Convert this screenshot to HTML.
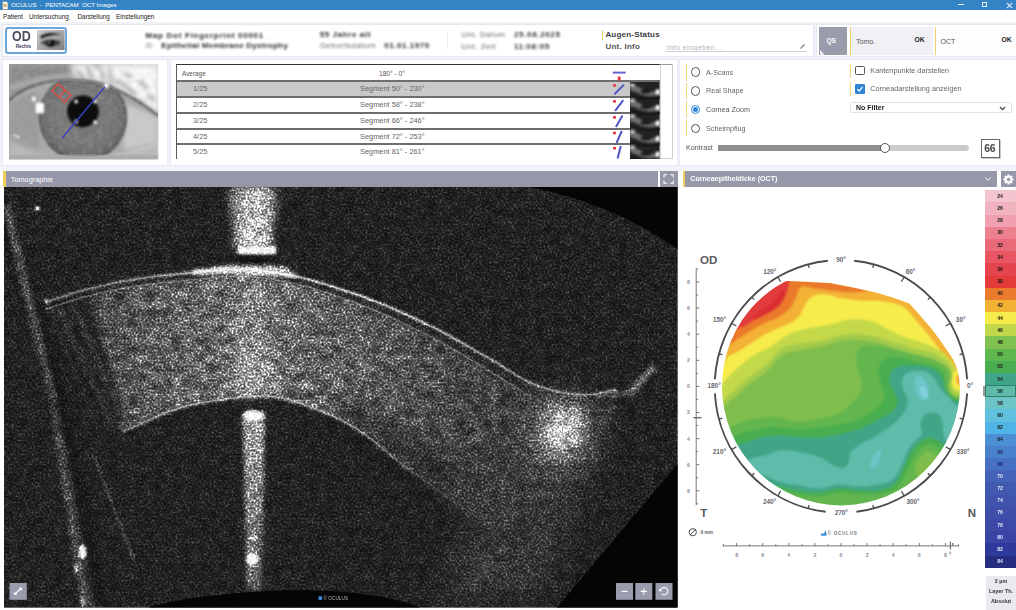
<!DOCTYPE html>
<html><head><meta charset="utf-8"><title>OCULUS - PENTACAM OCT Images</title>
<style>
*{box-sizing:border-box;margin:0;padding:0}
html,body{width:1016px;height:610px;overflow:hidden}
body{position:relative;background:#f1f2f8;font-family:"Liberation Sans",sans-serif;color:#444;font-size:7px}
.abs{position:absolute}
.t{position:absolute;white-space:pre;line-height:1}
.card{position:absolute;background:#fff;border:1px solid #e9eaf2}
.blur{filter:blur(1px)}
.ybar{position:absolute;width:1.5px;background:#f1d57a}
.hdr{position:absolute;background:#9697a8;height:16px}
.btn{position:absolute;background:#9a9cae;width:17px;height:17px}
</style></head><body>
<!-- title bar -->
<div class="abs" style="left:0;top:0;width:1016px;height:10.4px;background:#3484c5"></div>
<svg class="abs" style="left:1px;top:1px" width="8" height="9" viewBox="0 0 8 9"><path d="M1.5 0.5h4l1.5 1.5v6.5h-5.5z" fill="#f4f4f4" stroke="#8a8a8a" stroke-width=".6"/><rect x="2.5" y="3" width="3" height="3" fill="#d8b25a"/></svg>
<div class="t" style="left:11px;top:2px;font-size:6.2px;color:#fff;letter-spacing:-0.05px">OCULUS  -  PENTACAM  OCT Images</div>
<div class="abs" style="left:957.5px;top:4.2px;width:6px;height:1.1px;background:#e6effa"></div>
<div class="abs" style="left:982.3px;top:1.8px;width:4.6px;height:5.6px;border:1.1px solid #e6effa"></div>
<svg class="abs" style="left:1006px;top:1.6px" width="7" height="7" viewBox="0 0 7 7"><path d="M.8 .8L6.2 6.2M6.2 .8L.8 6.2" stroke="#e6effa" stroke-width="1.1"/></svg>
<!-- menu bar -->
<div class="abs" style="left:0;top:10.4px;width:1016px;height:11.4px;background:#fff"></div>
<div class="t" style="left:3px;top:13.5px;font-size:6.4px;color:#222">Patient</div>
<div class="t" style="left:29px;top:13.5px;font-size:6.4px;color:#222">Untersuchung</div>
<div class="t" style="left:77.5px;top:13.5px;font-size:6.4px;color:#222">Darstellung</div>
<div class="t" style="left:116px;top:13.5px;font-size:6.4px;color:#222">Einstellungen</div>
<!-- header card -->
<div class="card" style="left:2px;top:23.5px;width:811.5px;height:33px;border-color:#e6e8f0"></div>
<div class="card" style="left:815.5px;top:23.5px;width:201px;height:33px;border-color:#e6e8f0;border-right:0"></div>
<div class="abs" style="left:5.1px;top:26.5px;width:61.8px;height:27px;border:2.3px solid #6ca6dd;border-radius:3.2px;background:#fff"></div>
<div class="t" style="left:11.6px;top:28.1px;font-size:15px;font-weight:700;color:#4c4c5c;transform:scaleX(.83);transform-origin:0 0">OD</div>
<div class="t" style="left:15.7px;top:45.3px;font-size:4.6px;font-weight:700;color:#3a3a5a">Rechts</div>
<!-- OD eye thumbnail -->
<svg class="abs" style="left:37px;top:29.8px" width="27.6" height="20.5" viewBox="0 0 57 45" preserveAspectRatio="none">
<defs><linearGradient id="tg" x1="0" y1="0" x2="1" y2="1"><stop offset="0" stop-color="#d0d0d0"/><stop offset=".5" stop-color="#a8a8a8"/><stop offset="1" stop-color="#7c7c7c"/></linearGradient>
<filter id="tb" x="-20%" y="-20%" width="140%" height="140%"><feGaussianBlur stdDeviation="2"/></filter></defs>
<rect width="57" height="45" fill="url(#tg)"/>
<g filter="url(#tb)">
<path d="M7 13 Q26 1 51 11 Q30 9 8 19z" fill="#141414"/>
<path d="M10 30 Q24 18 46 26 Q50 30 44 34 Q26 40 10 30z" fill="#4a4a4a"/>
<ellipse cx="28" cy="29" rx="9" ry="7.5" fill="#101010"/>
<path d="M8 29 Q24 17 48 27" stroke="#151515" stroke-width="2.5" fill="none"/>
<circle cx="25" cy="27" r="1.6" fill="#ddd"/>
</g></svg>
<!-- patient texts (blurred) -->
<div class="blur">
<div class="t" style="left:145.5px;top:31.5px;font-size:8px;font-weight:700;color:#2c2c34;letter-spacing:.72px">Map Dot Fingerprint 00001 <span style="color:#c8c8d0;font-weight:400">...</span></div>
<div class="t" style="left:145.5px;top:42px;font-size:7px;color:#80808c">ID</div>
<div class="t" style="left:161.3px;top:41.8px;font-size:8px;font-weight:700;color:#2c2c34;letter-spacing:.25px">Epithelial Membrane Dystrophy</div>
<div class="t" style="left:319.7px;top:31px;font-size:8px;font-weight:700;color:#2c2c34;letter-spacing:.6px">55 Jahre alt</div>
<div class="t" style="left:319.7px;top:41.8px;font-size:8px;color:#686872;letter-spacing:.45px">Geburtsdatum</div>
<div class="t" style="left:384.3px;top:41.8px;font-size:8px;font-weight:700;color:#2c2c34;letter-spacing:.55px">01.01.1970</div>
<div class="t" style="left:461.3px;top:30.8px;font-size:8px;color:#686872;letter-spacing:.35px">Unt. Datum</div>
<div class="t" style="left:514px;top:30.8px;font-size:8px;font-weight:700;color:#34343c;letter-spacing:.65px">25.08.2025</div>
<div class="t" style="left:461.3px;top:43px;font-size:8px;color:#686872;letter-spacing:.5px">Unt. Zeit</div>
<div class="t" style="left:514px;top:43px;font-size:8px;font-weight:700;color:#34343c;letter-spacing:.5px">11:08:05</div>
</div>
<div class="abs" style="left:447px;top:32px;width:1px;height:17px;background:#eceef4"></div>
<div class="ybar" style="left:601.5px;top:29.5px;height:10.5px"></div>
<div class="t" style="left:605.4px;top:30.5px;font-size:8px;font-weight:700;color:#3c3c44;letter-spacing:.2px">Augen-Status</div>
<div class="t" style="left:605.4px;top:43px;font-size:8px;font-weight:700;color:#55555d;letter-spacing:.25px">Unt. Info</div>
<div class="t" style="left:666.8px;top:43.5px;font-size:7px;color:#b4b4be;letter-spacing:.45px">Info eingeben...</div>
<div class="abs" style="left:666px;top:50.5px;width:141px;height:1px;background:#cfd1da"></div>
<svg class="abs" style="left:799px;top:42.5px" width="7" height="7" viewBox="0 0 7 7"><path d="M1 6l.6-1.8 3.4-3.4 1.2 1.2-3.4 3.4z" fill="#9a9aa4"/></svg>
<!-- QS / Tomo / OCT -->
<div class="abs" style="left:819px;top:27px;width:27.5px;height:28px;background:#9a9cab"></div>
<svg class="abs" style="left:819.5px;top:50px" width="4.8" height="4.8" viewBox="0 0 6 6"><path d="M0 0L6 6H0z" fill="#eeeef3"/></svg>
<div class="t" style="left:826.5px;top:37.5px;font-size:6.5px;font-weight:700;color:#fff">QS</div>
<div class="abs" style="left:850px;top:27px;width:82.5px;height:28px;background:#f1f1f5"></div>
<div class="ybar" style="left:849.5px;top:27px;height:28px;width:1.8px;background:#f0cf6a"></div>
<div class="t" style="left:856px;top:37.6px;font-size:7px;color:#55555d">Tomo.</div>
<div class="t" style="left:914.5px;top:37.3px;font-size:6.8px;font-weight:700;color:#222">OK</div>
<div class="abs" style="left:935px;top:27px;width:81px;height:28px;background:#fdfdfe"></div>
<div class="ybar" style="left:934.5px;top:27px;height:28px;width:1.8px;background:#f0cf6a"></div>
<div class="t" style="left:940.5px;top:37.6px;font-size:7px;color:#55555d">OCT</div>
<div class="t" style="left:1001.5px;top:37.3px;font-size:6.8px;font-weight:700;color:#222">OK</div>
<!-- eye card -->
<div class="card" style="left:2px;top:58.5px;width:165.5px;height:107px"></div>
<svg class="abs" style="left:9.3px;top:64.3px" width="149.3" height="95.5" viewBox="25 25 868 555" preserveAspectRatio="none">
<defs>
<linearGradient id="ebg" x1="0" y1="0" x2="1" y2="0"><stop offset="0" stop-color="#a2a2a2"/><stop offset=".5" stop-color="#b0b0b0"/><stop offset="1" stop-color="#cdcdcd"/></linearGradient>
<radialGradient id="iris" cx="455" cy="320" r="260" gradientUnits="userSpaceOnUse"><stop offset="0" stop-color="#6a6a6a"/><stop offset=".55" stop-color="#787878"/><stop offset=".9" stop-color="#6c6c6c"/><stop offset="1" stop-color="#565656"/></radialGradient>
<filter id="eb1" x="-20%" y="-20%" width="140%" height="140%"><feGaussianBlur stdDeviation="12"/></filter>
<filter id="eb2" x="-20%" y="-20%" width="140%" height="140%"><feGaussianBlur stdDeviation="6"/></filter>
<filter id="eb3" x="-20%" y="-20%" width="140%" height="140%"><feGaussianBlur stdDeviation="22"/></filter>
<filter id="enoise" x="0" y="0" width="100%" height="100%"><feTurbulence type="fractalNoise" baseFrequency=".035" numOctaves="3" seed="4"/><feColorMatrix values="0 0 0 0 .5  0 0 0 0 .5  0 0 0 0 .5  .9 0 0 0 -.32"/></filter>
<clipPath id="ecl"><rect x="25" y="25" width="868" height="555"/></clipPath>
<clipPath id="lidcl"><path d="M25 250 Q120 150 300 128 Q480 110 620 165 Q780 240 893 330 L893 470 Q700 560 455 565 Q200 560 25 440z"/></clipPath>
</defs>
<g clip-path="url(#ecl)">
<rect x="25" y="25" width="868" height="555" fill="url(#ebg)"/>
<!-- upper lid skin -->
<path d="M25 25H420L400 120 Q250 100 25 200z" fill="#8a8a8a" filter="url(#eb3)"/>
<path d="M380 25H893V310 Q760 200 600 140 Q500 105 400 105z" fill="#fafafa" filter="url(#eb3)"/>
<!-- lashes streaks -->
<g filter="url(#eb1)" stroke="#8a8a8a" stroke-width="16" fill="none" opacity=".9">
<path d="M250 60l60 40M330 40l50 50M420 60l40 50M480 40l30 70M560 60l20 60M610 50l10 90M640 120l60 30M700 150l60 50M740 230l70 30M780 120l50 50M690 80l50 20M830 200l40 40M520 30l40 20"/>
</g>
<!-- sclera -->
<path d="M25 250 Q120 150 300 128 Q480 110 620 165 Q780 240 893 330 L893 470 Q700 560 455 565 Q200 560 25 440z" fill="#aaaaaa" filter="url(#eb2)"/>
<path d="M700 260 Q800 290 893 340V470 Q790 520 690 520z" fill="#cacaca" filter="url(#eb1)"/>
<path d="M25 260 Q100 200 200 180 V520 Q100 490 25 440z" fill="#9a9a9a" filter="url(#eb1)"/>
<!-- iris -->
<g clip-path="url(#lidcl)"><circle cx="455" cy="335" r="258" fill="url(#iris)" filter="url(#eb2)"/></g>
<!-- upper lid shadow line -->
<path d="M25 235 Q130 140 300 120 Q480 105 620 158 Q780 235 893 325" stroke="#5a5a5a" stroke-width="16" fill="none" filter="url(#eb2)" opacity=".85"/>
<path d="M25 165 Q200 95 420 90" stroke="#c4c4c4" stroke-width="18" fill="none" filter="url(#eb1)" opacity=".9"/>
<!-- lower lid -->
<path d="M25 470 Q250 585 455 580 Q700 575 893 490 V580 H25z" fill="#b9b9b9" filter="url(#eb1)"/>
<path d="M25 555H893V580H25z" fill="#a8a8a8" filter="url(#eb2)"/>
<!-- texture -->
<rect x="25" y="25" width="868" height="555" filter="url(#enoise)" opacity=".55"/>
<!-- pupil -->
<circle cx="455" cy="300" r="92" fill="#0b0b0b" filter="url(#eb2)"/>
<!-- reflections -->
<g filter="url(#eb2)" fill="#fff">
<rect x="180" y="250" width="48" height="60"/><rect x="158" y="215" width="22" height="24"/>
<rect x="405" y="234" width="20" height="18"/><rect x="515" y="234" width="20" height="18"/>
<rect x="405" y="350" width="20" height="18"/><rect x="515" y="354" width="20" height="18"/>
<rect x="578" y="138" width="26" height="26"/>
<rect x="50" y="440" width="40" height="10" transform="rotate(25 70 445)" opacity=".8"/>
</g>
<!-- overlays -->
<path d="M335 455L580 160" stroke="#3b41c4" stroke-width="8" stroke-linecap="round"/>
<g stroke="#e24a3c" stroke-width="7" fill="none"><path d="M310 140L385 205L350 248L275 182z"/><path d="M352 176L318 218"/></g>
</g></svg>
<!-- list card -->
<div class="card" style="left:170px;top:58.5px;width:508px;height:107px"></div>
<div class="abs" style="left:175.5px;top:64px;width:484.5px;height:95.4px;background:#fff;border-left:1.8px solid #5a5a5a;border-top:1.8px solid #333"></div>
<div class="abs" style="left:660px;top:64px;width:12.5px;height:95.4px;background:#fff;border:1px solid #d0d0d0;border-top:1.8px solid #999"></div>
<div class="abs" style="left:177.3px;top:81.5px;width:452.7px;height:15.6px;background:#c9c9c9"></div>
<div class="abs" style="left:177px;top:80.15px;width:483px;height:1.5px;background:#6e6e6e"></div>
<div class="abs" style="left:177px;top:96.35px;width:483px;height:1.5px;background:#6e6e6e"></div>
<div class="abs" style="left:177px;top:112.25px;width:483px;height:1.5px;background:#6e6e6e"></div>
<div class="abs" style="left:177px;top:128.15px;width:483px;height:1.5px;background:#6e6e6e"></div>
<div class="abs" style="left:177px;top:143.45px;width:483px;height:1.5px;background:#6e6e6e"></div>
<div class="t" style="left:182px;top:70.5px;font-size:6.4px;color:#555">Average</div>
<div class="t" style="left:379px;top:70.5px;font-size:6.6px;color:#555">180° - 0°</div>
<div class="t" style="left:193px;top:85.4px;font-size:7.4px;color:#666">1/25</div>
<div class="t" style="left:360px;top:85.4px;font-size:7.4px;color:#666">Segment 50° - 230°</div>
<div class="t" style="left:193px;top:101.45px;font-size:7.4px;color:#666">2/25</div>
<div class="t" style="left:360px;top:101.45px;font-size:7.4px;color:#666">Segment 58° - 238°</div>
<div class="t" style="left:193px;top:117.35000000000001px;font-size:7.4px;color:#666">3/25</div>
<div class="t" style="left:360px;top:117.35000000000001px;font-size:7.4px;color:#666">Segment 66° - 246°</div>
<div class="t" style="left:193px;top:132.95000000000002px;font-size:7.4px;color:#666">4/25</div>
<div class="t" style="left:360px;top:132.95000000000002px;font-size:7.4px;color:#666">Segment 72° - 253°</div>
<div class="t" style="left:193px;top:148.20000000000002px;font-size:7.4px;color:#666">5/25</div>
<div class="t" style="left:360px;top:148.20000000000002px;font-size:7.4px;color:#666">Segment 81° - 261°</div>
<svg class="abs" style="left:606px;top:64px" width="30" height="96" viewBox="606 64 30 96">
<path d="M612.8 72.6H625.6" stroke="#6166cc" stroke-width="2"/><rect x="617.8" y="76.6" width="2.8" height="4" fill="#e8323c"/>
<path d="M614.4 94.2L624.0 84.6" stroke="#4f55c6" stroke-width="2"/>
<rect x="613" y="84.2" width="3" height="2.4" fill="#e8323c"/>
<path d="M615.1 110.8L623.3 100.1" stroke="#4f55c6" stroke-width="2"/>
<rect x="613" y="100.2" width="3" height="2.4" fill="#e8323c"/>
<path d="M615.9 127.1L622.5 115.6" stroke="#4f55c6" stroke-width="2"/>
<rect x="613" y="116.2" width="3" height="2.4" fill="#e8323c"/>
<path d="M616.6 142.9L621.8 131.0" stroke="#4f55c6" stroke-width="2"/>
<rect x="613" y="131.8" width="3" height="2.4" fill="#e8323c"/>
<path d="M617.6 158.4L620.8 146.0" stroke="#4f55c6" stroke-width="2"/>
<rect x="613" y="147.0" width="3" height="2.4" fill="#e8323c"/>
</svg>
<svg class="abs" style="left:630px;top:81.6px" width="29.6" height="77.8" viewBox="0 0 30 78.4" preserveAspectRatio="none"><defs><filter id="thb" x="-10%" y="-10%" width="120%" height="120%"><feGaussianBlur stdDeviation=".9"/></filter></defs><rect width="30" height="78.4" fill="#222"/><g filter="url(#thb)">
<path d="M0 3.0Q7 3.0 11 6.5Q16 10.5 23 9.5L30 7.5V12.5Q20 15.5 11 12.5Q5 9.0 0 8.5z" fill="#6e6e6e"/>
<ellipse cx="16" cy="9.8" rx="6" ry="2.2" fill="#1c1c1c"/>
<rect x="0" y="2.0" width="4.6" height="1.8" fill="#fff"/><rect x="26.4" y="7.5" width="3.6" height="5" fill="#fff"/>
<rect x="0" y="14.6" width="30" height="1.8" fill="#111"/>
<path d="M0 18.7Q7 18.7 11 22.2Q16 26.2 23 25.2L30 23.2V28.2Q20 31.2 11 28.2Q5 24.7 0 24.2z" fill="#6e6e6e"/>
<ellipse cx="16" cy="25.5" rx="6" ry="2.2" fill="#1c1c1c"/>
<rect x="0" y="17.7" width="4.6" height="1.8" fill="#fff"/><rect x="26.4" y="23.2" width="3.6" height="5" fill="#fff"/>
<rect x="0" y="30.3" width="30" height="1.8" fill="#111"/>
<path d="M0 34.4Q7 34.4 11 37.9Q16 41.9 23 40.9L30 38.9V43.9Q20 46.9 11 43.9Q5 40.4 0 39.9z" fill="#6e6e6e"/>
<ellipse cx="16" cy="41.2" rx="6" ry="2.2" fill="#1c1c1c"/>
<rect x="0" y="33.4" width="4.6" height="1.8" fill="#fff"/><rect x="26.4" y="38.9" width="3.6" height="5" fill="#fff"/>
<rect x="0" y="46.0" width="30" height="1.8" fill="#111"/>
<path d="M0 50.1Q7 50.1 11 53.6Q16 57.6 23 56.6L30 54.6V59.6Q20 62.6 11 59.6Q5 56.1 0 55.6z" fill="#6e6e6e"/>
<ellipse cx="16" cy="56.9" rx="6" ry="2.2" fill="#1c1c1c"/>
<rect x="0" y="49.1" width="4.6" height="1.8" fill="#fff"/><rect x="26.4" y="54.6" width="3.6" height="5" fill="#fff"/>
<rect x="0" y="61.7" width="30" height="1.8" fill="#111"/>
<path d="M0 65.8Q7 65.8 11 69.3Q16 73.3 23 72.3L30 70.3V75.3Q20 78.3 11 75.3Q5 71.8 0 71.3z" fill="#6e6e6e"/>
<ellipse cx="16" cy="72.6" rx="6" ry="2.2" fill="#1c1c1c"/>
<rect x="0" y="64.8" width="4.6" height="1.8" fill="#fff"/><rect x="26.4" y="70.3" width="3.6" height="5" fill="#fff"/>
<rect x="0" y="77.4" width="30" height="1.8" fill="#111"/>
</g></svg>
<!-- controls card -->
<div class="card" style="left:679px;top:58.5px;width:337px;height:107px;border-right:0"></div>
<div class="ybar" style="left:685.8px;top:64px;height:16.5px"></div>
<div class="ybar" style="left:685.8px;top:82.5px;height:16.5px"></div>
<div class="ybar" style="left:685.8px;top:101px;height:16.5px"></div>
<div class="ybar" style="left:685.8px;top:120px;height:15.5px"></div>
<div class="abs" style="left:690.7px;top:67.3px;width:9.6px;height:9.6px;border-radius:50%;border:1.5px solid #555;background:#fff"></div>
<div class="abs" style="left:690.7px;top:86px;width:9.6px;height:9.6px;border-radius:50%;border:1.5px solid #555;background:#fff"></div>
<div class="abs" style="left:690.7px;top:104.9px;width:9.6px;height:9.6px;border-radius:50%;border:1.5px solid #2f86d6;background:#fff"></div>
<div class="abs" style="left:692.9px;top:107.1px;width:5.2px;height:5.2px;border-radius:50%;background:#2f86d6"></div>
<div class="abs" style="left:690.7px;top:123.5px;width:9.6px;height:9.6px;border-radius:50%;border:1.5px solid #555;background:#fff"></div>
<div class="t" style="left:706px;top:68.6px;font-size:7.2px;color:#666">A-Scans</div>
<div class="t" style="left:706px;top:87.4px;font-size:7.2px;color:#666">Real Shape</div>
<div class="t" style="left:706px;top:106.3px;font-size:7.2px;color:#555">Cornea Zoom</div>
<div class="t" style="left:706px;top:124.9px;font-size:7.2px;color:#666">Scheimpflug</div>
<div class="t" style="left:686px;top:144.3px;font-size:7.2px;color:#555">Kontrast</div>
<div class="abs" style="left:717.8px;top:145.2px;width:167px;height:6.2px;background:#8e8e8e"></div>
<div class="abs" style="left:884px;top:145.2px;width:85px;height:6.2px;background:#cbcbcb;border-radius:0 3px 3px 0"></div>
<div class="abs" style="left:879.8px;top:142.8px;width:10.6px;height:10.6px;border-radius:50%;border:1.4px solid #555;background:#fff"></div>
<div class="abs" style="left:981px;top:139px;width:18.5px;height:18.5px;border:1.2px solid #666;background:#fff;box-shadow:.8px .8px 0 #bbb"></div>
<div class="t" style="left:984.2px;top:143.4px;font-size:10.5px;font-weight:700;color:#444;letter-spacing:-.3px">66</div>
<div class="ybar" style="left:849.6px;top:64px;height:13.5px"></div>
<div class="ybar" style="left:849.6px;top:82px;height:13.5px"></div>
<div class="abs" style="left:855px;top:65.6px;width:9.6px;height:9.6px;border:1.4px solid #555;border-radius:1.5px;background:#fff"></div>
<div class="abs" style="left:855px;top:83.8px;width:9.8px;height:9.8px;border-radius:1px;background:#2f86d6"></div>
<svg class="abs" style="left:855px;top:83.8px" width="9.8" height="9.8" viewBox="0 0 10 10"><path d="M2.3 5.2l2 2 3.4-4.2" stroke="#fff" stroke-width="1.3" fill="none"/></svg>
<div class="t" style="left:870.3px;top:66.9px;font-size:7.3px;color:#666">Kantenpunkte darstellen</div>
<div class="t" style="left:870.3px;top:85.2px;font-size:7.3px;color:#666">Corneadarstellung anzeigen</div>
<div class="abs" style="left:850px;top:101.8px;width:161.5px;height:11.6px;border:1px solid #dfe1e8;border-radius:1.5px;background:#fff"></div>
<div class="t" style="left:856px;top:104.2px;font-size:7px;font-weight:700;color:#222">No Filter</div>
<svg class="abs" style="left:998.5px;top:105.5px" width="7" height="5" viewBox="0 0 7 5"><path d="M1 1l2.5 2.6L6 1" stroke="#444" stroke-width="1.3" fill="none"/></svg>
<!-- tomography header -->
<div class="abs" style="left:0;top:167px;width:1016px;height:443px;background:#fff"></div>
<div class="abs" style="left:0;top:166px;width:1016px;height:5px;background:#f3f4f9"></div>
<div class="hdr" style="left:3.3px;top:171px;width:654.5px"></div>
<div class="abs" style="left:3.3px;top:171px;width:2.6px;height:16px;background:#f0cf5e"></div>
<div class="t" style="left:10.8px;top:175.6px;font-size:7.3px;color:#fff">Tomographie</div>
<div class="hdr" style="left:660.3px;top:171px;width:17.3px"></div>
<svg class="abs" style="left:660.3px;top:171px" width="17.3" height="16" viewBox="0 0 17.3 16"><path d="M4 6.5V3.8H7M10.3 3.8H13.3V6.5M13.3 9.5V12.2H10.3M7 12.2H4V9.5" stroke="#fff" stroke-width="1.1" fill="none"/></svg>
<!-- map header -->
<div class="hdr" style="left:682.8px;top:171px;width:314.7px"></div>
<div class="abs" style="left:682.8px;top:171px;width:2.6px;height:16px;background:#f0cf5e"></div>
<div class="t" style="left:690.3px;top:175.7px;font-size:7.1px;font-weight:700;color:#fff">Corneaepitheldicke (OCT)</div>
<svg class="abs" style="left:984px;top:176px" width="8" height="6" viewBox="0 0 8 6"><path d="M1.2 1.5l2.8 2.8 2.8-2.8" stroke="#fff" stroke-width="1" fill="none"/></svg>
<div class="hdr" style="left:1001px;top:171px;width:15px"></div>
<svg class="abs" style="left:1003px;top:173.5px" width="11" height="11" viewBox="-5.5 -5.5 11 11"><g fill="#fff"><circle r="3.4"/><g id="gt"><rect x="-1.1" y="-5" width="2.2" height="10"/></g><use href="#gt" transform="rotate(45)"/><use href="#gt" transform="rotate(90)"/><use href="#gt" transform="rotate(135)"/></g><circle r="1.7" fill="#9697a8"/></svg>
<!-- OCT image -->
<svg class="abs" style="left:4px;top:187px" width="673.5" height="420.5" viewBox="4 187 673.5 420.5">
<defs>
<filter id="spk" filterUnits="userSpaceOnUse" x="4" y="187" width="673.5" height="420.5" color-interpolation-filters="sRGB">
<feTurbulence type="fractalNoise" baseFrequency="0.5" numOctaves="2" seed="7" result="n"/>
<feColorMatrix in="n" type="matrix" values="1.9 0 0 0 -0.45  1.9 0 0 0 -0.45  1.9 0 0 0 -0.45  0 0 0 0 1" result="ng"/>
<feComponentTransfer in="ng" result="ng2"><feFuncR type="gamma" amplitude="1" exponent="2.0" offset="0"/><feFuncG type="gamma" amplitude="1" exponent="2.0" offset="0"/><feFuncB type="gamma" amplitude="1" exponent="2.0" offset="0"/></feComponentTransfer>
<feComposite in="SourceGraphic" in2="ng2" operator="arithmetic" k1="1.45" k2="0.52" k3="0" k4="0" result="m"/>
<feTurbulence type="fractalNoise" baseFrequency="0.11" numOctaves="2" seed="11" result="c"/>
<feColorMatrix in="c" type="matrix" values="0 1.8 0 0 -0.4  0 1.8 0 0 -0.4  0 1.8 0 0 -0.4  0 0 0 0 1" result="cg"/>
<feComposite in="m" in2="cg" operator="arithmetic" k1="0.5" k2="0.75" k3="0" k4="0"/>
</filter>
<filter id="strf" x="-5%" y="-10%" width="110%" height="120%" color-interpolation-filters="sRGB">
<feGaussianBlur in="SourceGraphic" stdDeviation="2.2" result="b"/>
<feTurbulence type="fractalNoise" baseFrequency="0.07 0.11" numOctaves="3" seed="5" result="t"/>
<feColorMatrix in="t" type="matrix" values="1.5 0 0 0 -0.25  1.5 0 0 0 -0.25  1.5 0 0 0 -0.25  0 0 0 0 1" result="tg"/>
<feComposite in="b" in2="tg" operator="arithmetic" k1="0.5" k2="0.5" k3="0" k4="0"/>
</filter>
<filter id="b1" x="-30%" y="-30%" width="160%" height="160%"><feGaussianBlur stdDeviation="1"/></filter>
<filter id="b2" x="-30%" y="-30%" width="160%" height="160%"><feGaussianBlur stdDeviation="2.2"/></filter>
<filter id="b4" x="-30%" y="-30%" width="160%" height="160%"><feGaussianBlur stdDeviation="4"/></filter>
<filter id="b8" x="-50%" y="-50%" width="200%" height="200%"><feGaussianBlur stdDeviation="8"/></filter>
<filter id="b14" x="-50%" y="-50%" width="200%" height="200%"><feGaussianBlur stdDeviation="14"/></filter>
<linearGradient id="strg" gradientUnits="userSpaceOnUse" x1="46" y1="0" x2="620" y2="0">
<stop offset="0" stop-color="#424242"/><stop offset=".05" stop-color="#606060"/><stop offset=".1" stop-color="#6f6f6f"/><stop offset=".18" stop-color="#878787"/><stop offset=".27" stop-color="#939393"/><stop offset=".355" stop-color="#a4a4a4"/><stop offset=".44" stop-color="#969696"/><stop offset=".6" stop-color="#808080"/><stop offset=".72" stop-color="#666666"/><stop offset=".85" stop-color="#575757"/><stop offset="1" stop-color="#474747"/></linearGradient>
<linearGradient id="bmg" gradientUnits="userSpaceOnUse" x1="0" y1="187" x2="0" y2="250"><stop offset="0" stop-color="#8c8c8c"/><stop offset="1" stop-color="#d8d8d8"/></linearGradient>
<linearGradient id="bmg2" gradientUnits="userSpaceOnUse" x1="0" y1="420" x2="0" y2="590"><stop offset="0" stop-color="#b4b4b4"/><stop offset=".6" stop-color="#8a8a8a"/><stop offset="1" stop-color="#6a6a6a"/></linearGradient>
<linearGradient id="postg" gradientUnits="userSpaceOnUse" x1="100" y1="0" x2="500" y2="0"><stop offset="0" stop-color="#999"/><stop offset=".2" stop-color="#e0e0e0"/><stop offset=".65" stop-color="#cfcfcf"/><stop offset=".8" stop-color="#777" stop-opacity=".7"/><stop offset="1" stop-color="#555" stop-opacity="0"/></linearGradient>
<linearGradient id="antg" gradientUnits="userSpaceOnUse" x1="45" y1="0" x2="620" y2="0"><stop offset="0" stop-color="#999"/><stop offset=".2" stop-color="#bbb"/><stop offset=".3" stop-color="#fff"/><stop offset=".55" stop-color="#fff"/><stop offset=".75" stop-color="#c8c8c8"/><stop offset="1" stop-color="#aaa"/></linearGradient>
<clipPath id="octclip"><rect x="4" y="187" width="673.5" height="420.5"/></clipPath>
</defs>
<g clip-path="url(#octclip)">
<rect x="4" y="187" width="673.5" height="420.5" fill="#000"/>
<g filter="url(#spk)">
<rect x="4" y="187" width="673.5" height="420.5" fill="#252525"/>
<g filter="url(#b2)">
<path d="M0 200L60 400L100 607" stroke="#1a1a1a" stroke-width="16" fill="none"/>
<path d="M6 205L52 397L85 607" stroke="#626262" stroke-width="6" fill="none"/>
<path d="M30 320L62 440L92 607" stroke="#3c3c3c" stroke-width="5" fill="none"/>
</g>
<path d="M93 455L135 562" stroke="#666" stroke-width="1.6" fill="none" filter="url(#b1)"/>
<path d="M515 430L610 405L590 470L545 590L440 600L470 520z" fill="#3e3e3e" filter="url(#b14)"/>
<path d="M575 440L520 520L470 590" stroke="#5a5a5a" stroke-width="2" fill="none" filter="url(#b2)"/>
<path d="M45.3 309.3C52.8 307.0 74.0 299.5 90.0 295.5C106.0 291.5 124.4 287.8 141.6 285.2C158.8 282.6 176.1 281.1 193.3 279.6C210.5 278.1 227.7 275.6 244.9 276.3C262.1 277.0 280.9 280.6 296.5 284.0C312.1 287.4 322.9 291.1 338.5 296.6C354.1 302.1 372.9 309.4 390.1 317.1C407.3 324.7 424.5 333.3 441.7 342.7C458.9 352.1 478.5 364.4 493.4 373.5C508.3 382.5 519.2 391.2 531.2 397.0C543.2 402.8 555.3 406.0 565.6 408.3C575.9 410.6 584.6 411.2 593.2 410.9C601.8 410.5 613.2 407.2 617.2 406.5L500.0 540.0C496.7 536.7 490.0 528.0 480.0 520.0C470.0 512.0 454.1 502.2 440.0 492.0C425.9 481.8 407.0 467.8 395.5 459.0C384.0 450.2 380.8 445.8 371.0 439.0C361.2 432.2 352.3 424.9 337.0 418.0C321.7 411.1 297.2 400.7 279.0 397.5C260.8 394.3 244.9 396.8 227.7 398.7C210.5 400.6 192.1 404.1 176.0 409.0C159.9 413.9 140.3 424.3 131.3 428.0C122.3 431.7 123.5 430.5 122.0 431.0Z" fill="url(#strg)" filter="url(#strf)"/>
<path d="M335 395L400 425L470 470L530 520L505 548L440 495L395 461L337 420z" fill="#1c1c1c" opacity=".55" filter="url(#b8)"/>
<path d="M440 492L500 540L560 470L530 400z" fill="#424242" filter="url(#b8)"/>
<path d="M45.3 302.3C52.8 300.0 74.0 292.5 90.0 288.5C106.0 284.5 124.4 280.8 141.6 278.2C158.8 275.6 176.1 274.1 193.3 272.6C210.5 271.1 227.7 268.7 244.9 269.3C262.1 269.9 281.1 273.4 296.5 276.5C311.9 279.6 321.6 282.8 337.0 287.9C352.4 292.9 371.4 299.6 388.6 306.8C405.8 314.0 423.0 322.0 440.2 330.9C457.4 339.8 477.0 351.5 491.9 360.1C506.8 368.7 517.7 377.1 529.7 382.5C541.7 387.9 553.8 390.8 564.1 392.8C574.4 394.8 583.1 395.1 591.7 394.5C600.3 393.9 611.7 390.2 615.7 389.4L617.2 406.5C613.2 407.2 601.8 410.5 593.2 410.9C584.6 411.2 575.9 410.6 565.6 408.3C555.3 406.0 543.2 402.8 531.2 397.0C519.2 391.2 508.3 382.5 493.4 373.5C478.5 364.4 458.9 352.1 441.7 342.7C424.5 333.3 407.3 324.7 390.1 317.1C372.9 309.4 354.1 302.1 338.5 296.6C322.9 291.1 312.1 287.4 296.5 284.0C280.9 280.6 262.1 277.0 244.9 276.3C227.7 275.6 210.5 278.1 193.3 279.6C176.1 281.1 158.8 282.6 141.6 285.2C124.4 287.8 106.0 291.5 90.0 295.5C74.0 299.5 52.8 307.0 45.3 309.3Z" fill="#303030"/>
<path d="M42 303L88 292L124 418L104 440z" fill="#202020" opacity=".85" filter="url(#b2)"/>
<g filter="url(#b2)">
<path d="M58 306L114 430" stroke="#4a4a4a" stroke-width="3"/>
<path d="M72 302L126 424" stroke="#454545" stroke-width="3.5"/>
<path d="M47 303L100 436" stroke="#3a3a3a" stroke-width="2.5"/>
</g>
<rect x="236" y="280" width="34" height="116" fill="#fff" opacity=".2" filter="url(#b8)"/>
<ellipse cx="253" cy="372" rx="22" ry="22" fill="#fff" opacity=".3" filter="url(#b8)"/>
<path d="M45.3 302.3C52.8 300.0 74.0 292.5 90.0 288.5C106.0 284.5 124.4 280.8 141.6 278.2C158.8 275.6 176.1 274.1 193.3 272.6C210.5 271.1 227.7 268.7 244.9 269.3C262.1 269.9 281.1 273.4 296.5 276.5C311.9 279.6 321.6 282.8 337.0 287.9C352.4 292.9 371.4 299.6 388.6 306.8C405.8 314.0 423.0 322.0 440.2 330.9C457.4 339.8 477.0 351.5 491.9 360.1C506.8 368.7 517.7 377.1 529.7 382.5C541.7 387.9 553.8 390.8 564.1 392.8C574.4 394.8 583.1 395.1 591.7 394.5C600.3 393.9 611.7 390.2 615.7 389.4" stroke="url(#antg)" stroke-width="1.7" fill="none" filter="url(#b1)"/>
<path d="M45.3 309.3C52.8 307.0 74.0 299.5 90.0 295.5C106.0 291.5 124.4 287.8 141.6 285.2C158.8 282.6 176.1 281.1 193.3 279.6C210.5 278.1 227.7 275.6 244.9 276.3C262.1 277.0 280.9 280.6 296.5 284.0C312.1 287.4 322.9 291.1 338.5 296.6C354.1 302.1 372.9 309.4 390.1 317.1C407.3 324.7 424.5 333.3 441.7 342.7C458.9 352.1 478.5 364.4 493.4 373.5C508.3 382.5 519.2 391.2 531.2 397.0C543.2 402.8 555.3 406.0 565.6 408.3C575.9 410.6 584.6 411.2 593.2 410.9C601.8 410.5 613.2 407.2 617.2 406.5" stroke="#b0b0b0" stroke-width="1" fill="none" filter="url(#b1)" opacity=".8"/>
<path d="M122.0 431.0C123.5 430.5 122.3 431.7 131.3 428.0C140.3 424.3 159.9 413.9 176.0 409.0C192.1 404.1 210.5 400.6 227.7 398.7C244.9 396.8 260.8 394.3 279.0 397.5C297.2 400.7 321.7 411.1 337.0 418.0C352.3 424.9 361.2 432.2 371.0 439.0C380.8 445.8 384.0 450.2 395.5 459.0C407.0 467.8 425.9 481.8 440.0 492.0C454.1 502.2 470.0 512.0 480.0 520.0C490.0 528.0 496.7 536.7 500.0 540.0" stroke="url(#postg)" stroke-width="1.3" fill="none" filter="url(#b1)"/>
<path d="M193.3 272.6C201.9 272.1 227.7 268.7 244.9 269.3C262.1 269.9 287.9 275.3 296.5 276.5" stroke="#fff" stroke-width="4.5" fill="none" filter="url(#b2)"/>
<ellipse cx="250" cy="270" rx="40" ry="4.5" fill="#fff" filter="url(#b2)"/>
<path d="M229 187H278L270 250H237z" fill="url(#bmg)" filter="url(#b4)"/>
<path d="M240 187H268L264 250H243z" fill="#fff" opacity=".5" filter="url(#b4)"/>
<rect x="238" y="246.5" width="38" height="7.5" fill="#fff" filter="url(#b1)"/>
<rect x="240" y="256" width="30" height="8" fill="#000" opacity=".45" filter="url(#b2)"/>
<path d="M243 412H265L261 590H247z" fill="url(#bmg2)" filter="url(#b2)"/>
<ellipse cx="253.5" cy="416" rx="10.5" ry="5.5" fill="#fff" filter="url(#b1)"/>
<ellipse cx="253.5" cy="538" rx="4" ry="2.5" fill="#fff" filter="url(#b1)"/>
<ellipse cx="252.5" cy="559" rx="7" ry="6" fill="#fff" filter="url(#b1)"/>
<ellipse cx="560" cy="432" rx="34" ry="38" fill="#6c6c6c" filter="url(#b14)"/>
<ellipse cx="563" cy="430" rx="17" ry="23" fill="#f4f4f4" filter="url(#b8)" transform="rotate(25 563 430)"/>
<path d="M629 394L654 367" stroke="#999" stroke-width="5" filter="url(#b2)"/>
<path d="M598 396L628 392" stroke="#777" stroke-width="5" filter="url(#b2)"/>
<ellipse cx="82.5" cy="552" rx="3.6" ry="7" fill="#fff" filter="url(#b1)"/>
<ellipse cx="76" cy="568" rx="2" ry="5" fill="#aaa" filter="url(#b1)"/>
<ellipse cx="83" cy="601" rx="2" ry="5" fill="#ccc" filter="url(#b1)"/>
<rect x="35.5" y="206.5" width="4" height="4" fill="#fff" filter="url(#b1)"/>
<rect x="45" y="299" width="4" height="4" fill="#ddd" filter="url(#b1)"/>
</g>
<g opacity=".8">
<path d="M45.3 302.3C52.8 300.0 74.0 292.5 90.0 288.5C106.0 284.5 124.4 280.8 141.6 278.2C158.8 275.6 176.1 274.1 193.3 272.6C210.5 271.1 227.7 268.7 244.9 269.3C262.1 269.9 281.1 273.4 296.5 276.5C311.9 279.6 321.6 282.8 337.0 287.9C352.4 292.9 371.4 299.6 388.6 306.8C405.8 314.0 423.0 322.0 440.2 330.9C457.4 339.8 477.0 351.5 491.9 360.1C506.8 368.7 517.7 377.1 529.7 382.5C541.7 387.9 553.8 390.8 564.1 392.8C574.4 394.8 583.1 395.1 591.7 394.5C600.3 393.9 611.7 390.2 615.7 389.4" stroke="url(#antg)" stroke-width="1.1" fill="none" opacity=".8"/>
<path d="M193.3 272.6C201.9 272.1 227.7 268.7 244.9 269.3C262.1 269.9 287.9 275.3 296.5 276.5" stroke="#fff" stroke-width="2.6" fill="none" filter="url(#b1)"/>
<path d="M122.0 431.0C123.5 430.5 122.3 431.7 131.3 428.0C140.3 424.3 159.9 413.9 176.0 409.0C192.1 404.1 210.5 400.6 227.7 398.7C244.9 396.8 260.8 394.3 279.0 397.5C297.2 400.7 321.7 411.1 337.0 418.0C352.3 424.9 361.2 432.2 371.0 439.0C380.8 445.8 384.0 450.2 395.5 459.0C407.0 467.8 425.9 481.8 440.0 492.0C454.1 502.2 470.0 512.0 480.0 520.0C490.0 528.0 496.7 536.7 500.0 540.0" stroke="url(#postg)" stroke-width="1" fill="none" opacity=".8"/>
<path d="M45.3 309.3C52.8 307.0 74.0 299.5 90.0 295.5C106.0 291.5 124.4 287.8 141.6 285.2C158.8 282.6 176.1 281.1 193.3 279.6C210.5 278.1 227.7 275.6 244.9 276.3C262.1 277.0 280.9 280.6 296.5 284.0C312.1 287.4 322.9 291.1 338.5 296.6C354.1 302.1 372.9 309.4 390.1 317.1C407.3 324.7 424.5 333.3 441.7 342.7C458.9 352.1 478.5 364.4 493.4 373.5C508.3 382.5 524.9 393.1 531.2 397.0" stroke="#cfcfcf" stroke-width="0.9" fill="none" opacity=".55"/>
<rect x="239" y="247" width="36" height="6.5" fill="#fff" filter="url(#b1)"/>
<ellipse cx="253.5" cy="416" rx="9.5" ry="4.6" fill="#fff" filter="url(#b1)"/>
<ellipse cx="252.5" cy="559" rx="6" ry="5" fill="#fff" filter="url(#b1)"/>
<ellipse cx="82.5" cy="552" rx="3" ry="6" fill="#fff" filter="url(#b1)"/>
<rect x="35.8" y="206.8" width="3.4" height="3.4" fill="#fff"/>
</g>
<path d="M530 187Q612 203 677.5 249V187z" fill="#050505"/>
<path d="M677.5 464L557 607.5H677.5z" fill="#050505"/>
<path d="M148 607.5Q200 592 300 590Q380 591 420 607.5z" fill="#050505"/>
<rect x="9.5" y="583" width="17.3" height="16.8" fill="#9a9cae"/>
<path d="M14.5 594.5L21.5 588M14.5 594.5h2.2M14.5 594.5v-2.2M21.5 588h-2.2M21.5 588v2.2" stroke="#fff" stroke-width="1.2" fill="none"/>
<rect x="616" y="583" width="17" height="16.8" fill="#9a9cae"/>
<rect x="635.3" y="583" width="17" height="16.8" fill="#9a9cae"/>
<rect x="655.5" y="583" width="17" height="16.8" fill="#9a9cae"/>
<path d="M621.5 591.4h6" stroke="#fff" stroke-width="1.1"/>
<path d="M640.6 591.4h6.4M643.8 588.2v6.4" stroke="#fff" stroke-width="1.1"/>
<path d="M660.5 590.5a3.7 3.7 0 1 1 1.2 3.4" stroke="#fff" stroke-width="1.1" fill="none"/><path d="M659 588.2v3h3z" fill="#fff"/>
<rect x="318.5" y="596.3" width="3.6" height="3.6" fill="#3d8fe0"/>
<text x="323.5" y="600.3" font-family="Liberation Sans, sans-serif" font-size="4.6" fill="#bbb" letter-spacing=".1">© OCULUS</text>
</g></svg>
<!-- map -->
<svg class="abs" style="left:680px;top:240px" width="305" height="330" viewBox="680 240 305 330">
<defs>
<clipPath id="mclip"><circle cx="841.0" cy="386.4" r="119.0"/></clipPath>
<clipPath id="mtop"><path d="M700 520V281.4L781 281.4L789.2 281.1L830 283L853 287.5L875.9 292.6L894.3 297.9L909.2 303.6C911.3 305.9 917.8 312.8 921.8 317.4C925.8 322.0 929.5 326.1 933.3 331.1C937.1 336.1 941.4 342.2 944.8 347.2C948.2 352.2 951.6 356.4 953.9 361.0C956.2 365.6 957.5 370.2 958.5 374.8C959.5 379.4 959.6 384.3 960.0 388.5C960.4 392.7 960.8 398.1 961.0 400.0L985 400V520z"/></clipPath>
<filter id="mb" x="-5%" y="-5%" width="110%" height="110%"><feGaussianBlur stdDeviation="0.9"/></filter>
</defs>
<g clip-path="url(#mclip)"><g clip-path="url(#mtop)"><g filter="url(#mb)">
<rect x="690" y="250" width="300" height="280" fill="#e23b3a"/>
<path d="M752.0 318.0C754.2 316.3 761.0 311.3 765.0 308.0C769.0 304.7 773.2 301.0 776.0 298.0C778.8 295.0 780.3 290.3 782.0 290.0C783.7 289.7 786.2 293.5 786.0 296.0C785.8 298.5 783.7 302.2 781.0 305.0C778.3 307.8 773.8 310.5 770.0 313.0C766.2 315.5 761.0 319.2 758.0 320.0C755.0 320.8 753.0 318.3 752.0 318.0Z" fill="#dc2f33"/>
<path d="M700.0 345.0C702.5 344.2 708.8 342.7 715.0 340.0C721.2 337.3 732.6 331.1 737.5 328.9C742.4 326.7 741.7 328.0 744.4 326.6C747.1 325.2 750.1 322.7 753.6 320.8C757.1 318.9 761.3 317.2 765.1 315.1C768.9 313.0 773.6 310.7 776.6 308.2C779.6 305.7 781.5 303.3 783.4 300.2C785.3 297.1 787.0 293.0 788.0 289.8C789.0 286.6 788.9 285.7 789.2 281.1C789.5 276.5 789.9 265.2 790.0 262.0L1000 262.0L1000 620L680 620L680 345.0Z" fill="#ea7a2c"/>
<path d="M700.0 362.0C702.5 360.3 710.1 354.9 715.0 352.0C719.9 349.1 725.8 347.0 729.5 344.9C733.2 342.8 734.6 341.1 737.5 339.2C740.4 337.3 743.6 335.3 746.7 333.4C749.8 331.5 752.5 329.6 755.9 327.7C759.3 325.8 763.6 323.7 767.4 322.0C771.2 320.3 775.3 319.5 778.9 317.4C782.5 315.3 786.5 312.2 789.2 309.3C791.9 306.4 793.4 303.3 794.9 300.2C796.4 297.1 797.0 292.8 798.4 290.5C799.8 288.2 800.2 286.8 803.0 286.5C805.8 286.2 810.5 287.8 815.0 288.5C819.5 289.2 824.2 289.8 830.0 290.5C835.8 291.2 844.2 292.4 850.0 292.5C855.8 292.6 861.3 292.1 865.0 291.0C868.7 289.9 869.5 289.5 872.0 286.0C874.5 282.5 878.7 272.7 880.0 270.0L1000 270.0L1000 620L680 620L680 362.0Z" fill="#f3b136"/>
<path d="M700.0 378.0C702.5 376.3 710.9 370.8 715.0 368.0C719.1 365.2 722.7 362.9 724.9 361.0C727.1 359.1 726.3 357.9 728.4 356.4C730.5 354.9 734.5 353.5 737.5 351.8C740.5 350.1 743.6 348.0 746.7 346.1C749.8 344.2 752.8 342.2 755.9 340.3C759.0 338.4 761.6 336.5 765.1 334.6C768.6 332.7 772.8 330.6 776.6 328.9C780.4 327.2 784.4 326.2 788.0 324.3C791.6 322.4 795.9 319.9 798.4 317.4C800.9 314.9 801.3 312.3 803.0 309.3C804.7 306.3 806.2 302.0 808.7 299.5C811.2 297.0 814.5 295.2 817.9 294.5C821.3 293.8 825.6 294.4 829.3 295.0C833.0 295.6 834.9 297.1 840.0 298.0C845.1 298.9 853.3 300.0 860.0 300.5C866.7 301.0 874.3 300.5 880.0 301.0C885.7 301.5 889.8 302.3 894.0 303.5C898.2 304.7 901.7 305.6 905.0 308.0C908.3 310.4 910.7 314.2 914.0 318.0C917.3 321.8 921.2 326.3 925.0 331.0C928.8 335.7 933.3 341.0 937.0 346.0C940.7 351.0 944.2 356.5 947.0 361.0C949.8 365.5 951.5 369.8 954.0 373.0C956.5 376.2 958.5 378.2 962.0 380.0C965.5 381.8 972.8 383.3 975.0 384.0L1000 384.0L1000 620L680 620L680 378.0Z" fill="#f6ec4c"/>
<path d="M700.0 400.0C702.5 398.7 711.6 393.9 715.0 392.0C718.4 390.1 718.8 390.2 720.3 388.5C721.8 386.8 721.7 384.3 723.8 381.6C725.9 378.9 729.6 375.8 733.0 372.5C736.4 369.2 740.6 365.2 744.4 362.1C748.2 359.0 752.1 356.4 755.9 354.1C759.7 351.8 763.9 350.3 767.4 348.4C770.9 346.5 773.5 344.7 776.6 342.6C779.7 340.5 782.3 337.6 785.7 335.7C789.1 333.8 793.0 332.4 797.2 331.1C801.4 329.8 806.4 328.6 811.0 327.7C815.6 326.8 820.2 326.3 824.8 325.4C829.4 324.5 835.3 323.4 838.5 322.5C841.7 321.6 840.2 320.7 843.8 320.1C847.3 319.6 854.8 318.9 859.8 319.2C864.8 319.5 869.0 320.4 873.6 322.0C878.2 323.6 882.8 326.6 887.4 328.9C892.0 331.2 896.6 333.8 901.2 335.7C905.8 337.6 910.3 338.8 914.9 340.3C919.5 341.8 924.5 343.2 928.7 344.9C932.9 346.6 936.8 348.4 940.2 350.7C943.7 353.0 946.9 356.0 949.4 358.7C951.9 361.4 953.7 364.6 955.0 367.0C956.3 369.4 953.7 371.7 957.0 373.0C960.3 374.3 972.0 374.7 975.0 375.0L1000 375.0L1000 620L680 620L680 400.0Z" fill="#c4d94a"/>
<path d="M700.0 418.0C702.5 416.3 711.0 411.0 715.0 408.0C719.0 405.0 721.6 402.1 723.8 400.0C726.0 397.9 726.1 397.5 728.4 395.4C730.7 393.3 734.5 390.1 737.5 387.4C740.5 384.7 743.6 381.8 746.7 379.3C749.8 376.8 752.8 374.8 755.9 372.5C759.0 370.2 762.4 367.9 765.1 365.6C767.8 363.3 769.9 361.0 772.0 358.7C774.1 356.4 775.4 353.9 777.7 351.8C780.0 349.7 782.5 347.4 785.7 346.1C789.0 344.8 793.0 344.4 797.2 343.8C801.4 343.2 806.4 343.2 811.0 342.6C815.6 342.0 820.5 341.1 824.8 340.0C829.1 338.9 832.1 337.0 837.0 336.0C841.9 335.0 848.1 333.9 854.1 333.9C860.1 333.9 866.5 334.6 873.3 336.0C880.0 337.4 887.5 340.3 894.6 342.4C901.7 344.5 909.1 346.9 915.9 348.8C922.6 350.8 929.8 351.8 935.1 354.1C940.4 356.4 945.1 359.8 947.9 362.6C950.7 365.4 951.8 367.9 952.1 371.1C952.4 374.3 949.3 378.6 949.5 381.8C949.7 385.0 951.7 388.4 953.2 390.3C954.7 392.2 954.9 392.6 958.5 393.5C962.1 394.4 972.2 395.6 975.0 396.0L1000 396.0L1000 620L680 620L680 418.0Z" fill="#a3cb4c"/>
<path d="M700.0 425.0C702.5 423.3 711.0 418.0 715.0 415.0C719.0 412.0 721.6 409.1 723.8 407.0C726.0 404.9 726.1 404.5 728.4 402.4C730.7 400.3 734.5 397.1 737.5 394.4C740.5 391.7 743.6 388.8 746.7 386.3C749.8 383.8 752.8 381.8 755.9 379.5C759.0 377.2 762.4 374.9 765.1 372.6C767.8 370.3 769.9 368.0 772.0 365.7C774.1 363.4 775.4 360.9 777.7 358.8C780.0 356.7 782.5 354.4 785.7 353.1C789.0 351.8 793.0 351.6 797.2 350.8C801.4 350.0 806.4 349.0 811.0 348.1C815.6 347.2 820.5 346.6 824.8 345.5C829.1 344.4 832.1 342.5 837.0 341.5C841.9 340.5 848.1 339.4 854.1 339.4C860.1 339.4 866.5 340.1 873.3 341.5C880.0 342.9 887.5 345.8 894.6 347.9C901.7 350.0 909.1 352.4 915.9 354.3C922.6 356.2 929.8 357.3 935.1 359.6C940.4 361.9 945.1 365.3 947.9 368.1C950.7 370.9 951.8 373.4 952.1 376.6C952.4 379.8 949.3 384.1 949.5 387.3C949.7 390.5 951.7 393.9 953.2 395.8C954.7 397.8 954.9 398.1 958.5 399.0C962.1 399.9 972.2 401.1 975.0 401.5L1000 401.5L1000 620L680 620L680 425.0Z" fill="#7fbe4d"/>
<path d="M700.0 436.0C702.5 435.3 710.3 433.4 715.0 432.0C719.7 430.6 723.5 429.1 728.4 427.4C733.3 425.7 737.9 423.3 744.4 421.6C750.9 419.9 761.5 417.6 767.4 417.0C773.3 416.4 774.4 416.9 779.7 417.7C785.0 418.5 792.8 421.5 799.4 421.7C806.0 421.9 812.5 420.0 819.1 418.7C825.7 417.4 833.2 416.4 838.7 413.8C844.2 411.2 848.4 406.6 852.0 403.0C855.6 399.4 858.9 396.0 860.5 392.5C862.1 389.0 862.1 386.1 861.6 381.8C861.1 377.5 858.2 371.5 857.3 366.9C856.4 362.3 855.7 357.3 856.2 354.1C856.7 350.9 857.6 349.1 860.5 347.7C863.4 346.3 867.6 345.2 873.3 345.6C879.0 346.0 887.5 348.2 894.6 349.8C901.7 351.4 909.1 353.4 915.9 355.2C922.6 357.0 930.0 358.3 935.1 360.5C940.2 362.7 944.2 365.6 946.5 368.5C948.8 371.4 948.8 374.8 949.0 378.0C949.2 381.2 947.0 385.0 948.0 388.0C949.0 391.0 950.5 394.0 955.0 396.0C959.5 398.0 971.7 399.3 975.0 400.0L1000 400.0L1000 620L680 620L680 436.0Z" fill="#62b64d"/>
<path d="M700.0 445.0C702.5 444.3 709.7 442.4 715.0 441.0C720.3 439.6 726.9 438.1 731.8 436.6C736.7 435.1 738.5 433.5 744.4 432.0C750.3 430.5 761.5 428.1 767.4 427.4C773.3 426.7 774.4 427.2 779.7 427.6C785.0 428.0 792.8 429.5 799.4 429.5C806.0 429.5 812.5 428.4 819.1 427.6C825.7 426.8 832.2 425.9 838.7 424.6C845.2 423.3 851.9 422.6 858.4 419.7C864.9 416.8 873.2 410.9 877.5 407.4C881.8 403.9 883.0 402.0 883.9 398.8C884.8 395.6 883.8 392.1 882.9 388.2C882.0 384.3 879.1 379.3 878.6 375.4C878.1 371.5 878.5 367.5 879.7 364.7C881.0 361.9 882.9 359.6 886.1 358.4C889.3 357.2 893.8 356.8 898.8 357.3C903.8 357.8 910.2 360.2 915.9 361.6C921.6 363.0 928.4 364.1 932.9 365.8C937.4 367.5 940.9 369.3 943.0 372.0C945.1 374.7 944.7 378.7 945.5 382.0C946.3 385.3 946.2 389.2 948.0 392.0C949.8 394.8 951.5 397.2 956.0 399.0C960.5 400.8 971.8 402.3 975.0 403.0L1000 403.0L1000 620L680 620L680 445.0Z" fill="#4aae50"/>
<path d="M700.0 455.0C702.5 454.3 709.1 452.6 715.0 451.0C720.9 449.4 728.4 447.7 735.2 445.7C742.0 443.7 750.5 440.4 755.9 438.9C761.3 437.4 763.4 437.2 767.4 436.6C771.4 436.0 774.4 435.3 779.7 435.4C785.0 435.5 792.8 437.1 799.4 437.4C806.0 437.7 812.5 437.9 819.1 437.4C825.7 436.9 832.2 435.7 838.7 434.4C845.2 433.1 851.8 431.9 858.4 429.5C865.0 427.1 872.4 422.7 878.1 419.7C883.8 416.7 889.1 414.7 892.4 411.6C895.7 408.5 897.6 404.6 897.8 401.0C898.0 397.4 894.9 393.9 893.5 390.3C892.1 386.8 889.5 383.1 889.3 379.7C889.1 376.3 890.1 372.4 892.4 370.1C894.7 367.8 898.5 366.5 903.1 365.8C907.7 365.1 915.0 365.2 920.1 365.8C925.2 366.4 930.4 367.6 934.0 369.5C937.6 371.4 939.8 373.9 941.5 377.0C943.2 380.1 942.6 384.7 944.0 388.0C945.4 391.3 947.7 394.7 950.0 397.0C952.3 399.3 953.8 400.5 958.0 402.0C962.2 403.5 972.2 405.3 975.0 406.0L1000 406.0L1000 620L680 620L680 455.0Z" fill="#41a586"/>
<path d="M715.0 470.0C717.5 469.5 725.1 468.4 730.0 467.0C734.9 465.6 740.1 463.4 744.4 461.8C748.7 460.2 752.1 458.4 755.9 457.2C759.7 456.0 763.4 456.1 767.4 454.9C771.4 453.7 774.4 450.6 779.7 450.2C785.0 449.8 792.8 451.0 799.4 452.2C806.0 453.4 813.5 455.0 819.1 457.1C824.7 459.2 828.9 463.2 832.8 465.0C836.7 466.8 840.1 468.2 842.7 467.9C845.3 467.6 847.1 465.8 848.6 463.0C850.1 460.2 849.2 454.5 851.5 451.2C853.8 447.9 858.0 446.1 862.4 443.3C866.8 440.5 872.9 437.7 878.1 434.4C883.4 431.1 889.3 427.7 893.9 423.6C898.5 419.5 903.5 413.9 905.7 409.8C908.0 405.7 908.0 402.8 907.4 398.8C906.8 394.9 902.5 390.0 902.0 386.1C901.5 382.2 902.2 377.9 904.2 375.4C906.2 372.9 910.1 371.6 913.8 371.1C917.5 370.6 923.0 370.8 926.5 372.2C930.0 373.6 932.6 376.7 935.1 379.7C937.6 382.7 939.0 387.1 941.5 390.3C944.0 393.5 947.5 396.3 950.0 398.8C952.5 401.3 952.2 403.3 956.4 405.2C960.6 407.1 971.9 402.5 975.0 410.0C978.1 417.5 978.3 444.1 975.0 450.0C971.7 455.9 960.0 447.6 955.0 445.7C950.0 443.8 946.9 442.7 944.8 438.9C942.7 435.1 943.6 427.0 942.5 422.8C941.4 418.6 940.6 415.1 937.9 413.6C935.2 412.1 929.3 412.1 926.4 413.6C923.5 415.1 921.5 419.4 920.7 422.8C919.9 426.2 922.8 431.2 921.8 434.3C920.8 437.4 917.2 438.5 914.9 441.2C912.6 443.9 910.3 446.1 908.0 450.3C905.7 454.5 903.9 461.4 901.2 466.4C898.5 471.4 896.2 477.1 892.0 480.2C887.8 483.3 881.5 483.7 875.9 484.8C870.3 485.9 864.6 486.6 858.4 486.6C852.2 486.6 845.2 484.3 838.7 484.6C832.2 484.9 825.7 488.4 819.1 488.6C812.5 488.8 806.0 486.8 799.4 485.6C792.8 484.5 785.4 483.3 779.7 481.7C774.0 480.1 771.6 477.9 765.0 476.0C758.4 474.1 748.3 469.3 740.0 470.0C731.7 470.7 719.2 480.0 715.0 480.0C710.8 480.0 715.0 471.7 715.0 470.0Z" fill="#5ebbaa"/>
<ellipse cx="921.5" cy="388" rx="6.5" ry="13" fill="#6ec5c8" transform="rotate(-18 921.5 388)"/>
<ellipse cx="924" cy="392" rx="3" ry="7" fill="#85d0de" transform="rotate(-25 924 392)"/>
<ellipse cx="876" cy="459" rx="3.6" ry="10.5" fill="#6ec5c8" transform="rotate(28 876 459)"/>
<path d="M700.0 486.0C710.0 485.2 748.0 481.2 760.0 481.0C772.0 480.8 765.2 483.0 771.8 484.6C778.4 486.2 791.5 489.2 799.4 490.5C807.3 491.8 812.5 492.8 819.1 492.5C825.7 492.2 832.2 488.9 838.7 488.6C845.2 488.3 851.8 490.2 858.4 490.5C865.0 490.8 872.2 491.6 878.1 490.5C884.0 489.4 889.8 487.8 894.0 484.0C898.2 480.2 900.8 473.2 903.5 468.0C906.2 462.8 907.9 457.2 910.5 453.0C913.1 448.8 915.8 445.6 919.0 443.0C922.2 440.4 926.3 437.6 930.0 437.5C933.7 437.4 937.7 440.4 941.0 442.5C944.3 444.6 944.3 447.9 950.0 450.0C955.7 452.1 970.8 454.2 975.0 455.0L1000 455.0L1000 620L680 620L680 486.0Z" fill="#4aae50"/>
<path d="M700.0 492.0C710.0 491.2 748.0 487.6 760.0 487.0C772.0 486.4 765.2 487.4 771.8 488.6C778.4 489.9 791.5 493.2 799.4 494.5C807.3 495.8 812.5 496.8 819.1 496.5C825.7 496.2 832.2 492.9 838.7 492.6C845.2 492.3 851.8 494.2 858.4 494.5C865.0 494.8 871.7 495.6 878.1 494.5C884.5 493.4 892.2 491.9 897.0 488.0C901.8 484.1 904.2 476.2 907.0 471.0C909.8 465.8 911.7 460.8 914.0 457.0C916.3 453.2 918.3 450.2 921.0 448.0C923.7 445.8 927.0 444.0 930.0 444.0C933.0 444.0 936.0 446.0 939.0 448.0C942.0 450.0 942.0 453.7 948.0 456.0C954.0 458.3 970.5 461.0 975.0 462.0L1000 462.0L1000 620L680 620L680 492.0Z" fill="#62b64d"/>
<path d="M917.0 462.0C918.2 460.5 921.5 454.6 924.0 453.0C926.5 451.4 929.8 451.7 932.0 452.5C934.2 453.3 936.4 455.4 937.0 458.0C937.6 460.6 936.9 465.0 935.6 468.0C934.3 471.0 931.6 474.3 929.0 476.0C926.4 477.7 922.3 478.8 920.0 478.0C917.7 477.2 915.5 473.7 915.0 471.0C914.5 468.3 916.7 463.5 917.0 462.0Z" fill="#7fbe4d"/>
<ellipse cx="958" cy="380" rx="6" ry="10" fill="#f6ec4c"/>
<ellipse cx="959.5" cy="379.5" rx="3.4" ry="6.5" fill="#f3b136"/>
<ellipse cx="960.5" cy="379.5" rx="1.8" ry="4" fill="#ea7a2c"/>
</g></g></g>
<path d="M967.1 379.3A126.3 126.3 0 0 0 854.2 260.8M827.8 260.8A126.3 126.3 0 0 0 714.9 379.3M714.9 393.5A126.3 126.3 0 0 0 825.6 511.8M856.4 511.8A126.3 126.3 0 0 0 967.1 393.5" stroke="#4c4c50" stroke-width="1.9" fill="none"/>
<path d="M963.0 353.7L959.6 354.6M950.4 323.2L945.6 326.0M930.3 297.1L927.8 299.6M904.1 277.0L901.4 281.8M873.7 264.4L872.8 267.8M808.3 264.4L809.2 267.8M777.9 277.0L780.6 281.8M751.7 297.1L754.2 299.6M731.6 323.2L736.4 326.0M719.0 353.7L722.4 354.6M719.0 419.1L722.4 418.2M731.6 449.6L736.4 446.8M751.7 475.7L754.2 473.2M777.8 495.8L780.6 491.0M808.3 508.4L809.2 505.0M873.7 508.4L872.8 505.0M904.1 495.8L901.4 491.0M930.3 475.7L927.8 473.2M950.4 449.6L945.6 446.8M963.0 419.1L959.6 418.2" stroke="#4c4c50" stroke-width="1.3" fill="none"/>
<text x="841" y="262.3" font-size="6.4" text-anchor="middle" font-family="Liberation Sans, sans-serif" font-weight="700" fill="#66666c">90°</text>
<text x="769.8" y="273.5" font-size="6.4" text-anchor="middle" font-family="Liberation Sans, sans-serif" font-weight="700" fill="#66666c">120°</text>
<text x="719.5" y="322.0" font-size="6.4" text-anchor="middle" font-family="Liberation Sans, sans-serif" font-weight="700" fill="#66666c">150°</text>
<text x="714.1" y="388.3" font-size="6.4" text-anchor="middle" font-family="Liberation Sans, sans-serif" font-weight="700" fill="#66666c">180°</text>
<text x="719.4" y="453.9" font-size="6.4" text-anchor="middle" font-family="Liberation Sans, sans-serif" font-weight="700" fill="#66666c">210°</text>
<text x="769.5" y="504.0" font-size="6.4" text-anchor="middle" font-family="Liberation Sans, sans-serif" font-weight="700" fill="#66666c">240°</text>
<text x="841.3" y="515.3" font-size="6.4" text-anchor="middle" font-family="Liberation Sans, sans-serif" font-weight="700" fill="#66666c">270°</text>
<text x="913" y="504.0" font-size="6.4" text-anchor="middle" font-family="Liberation Sans, sans-serif" font-weight="700" fill="#66666c">300°</text>
<text x="963" y="453.9" font-size="6.4" text-anchor="middle" font-family="Liberation Sans, sans-serif" font-weight="700" fill="#66666c">330°</text>
<text x="970" y="388.3" font-size="6.4" text-anchor="middle" font-family="Liberation Sans, sans-serif" font-weight="700" fill="#66666c">0°</text>
<text x="960.7" y="322.0" font-size="6.4" text-anchor="middle" font-family="Liberation Sans, sans-serif" font-weight="700" fill="#66666c">30°</text>
<text x="910.5" y="273.5" font-size="6.4" text-anchor="middle" font-family="Liberation Sans, sans-serif" font-weight="700" fill="#66666c">60°</text>
<text x="700" y="264.3" font-size="11.6" font-family="Liberation Sans, sans-serif" font-weight="700" fill="#5a5a60">OD</text>
<text x="700.3" y="516.7" font-size="11.5" font-family="Liberation Sans, sans-serif" font-weight="700" fill="#5a5a60">T</text>
<text x="967.8" y="516.7" font-size="11.5" font-family="Liberation Sans, sans-serif" font-weight="700" fill="#5a5a60">N</text>
<path d="M696.2 268.5V505M696.2 268.9h2M696.2 282.0h3.2M696.2 295.0h2M696.2 308.1h3.2M696.2 321.1h2M696.2 334.2h3.2M696.2 347.2h2M696.2 360.3h3.2M696.2 373.3h2M696.2 386.4h3.2M696.2 399.4h2M696.2 412.5h3.2M696.2 425.5h2M696.2 438.6h3.2M696.2 451.6h2M696.2 464.7h3.2M696.2 477.8h2M696.2 490.8h3.2M696.2 503.8h2" stroke="#77777c" stroke-width="1" fill="none"/>
<text x="688.5" y="283.9" font-size="5.2" text-anchor="middle" font-family="Liberation Sans, sans-serif" font-weight="700" fill="#8a8a90">8</text>
<text x="688.5" y="310.0" font-size="5.2" text-anchor="middle" font-family="Liberation Sans, sans-serif" font-weight="700" fill="#8a8a90">6</text>
<text x="688.5" y="336.1" font-size="5.2" text-anchor="middle" font-family="Liberation Sans, sans-serif" font-weight="700" fill="#8a8a90">4</text>
<text x="688.5" y="362.2" font-size="5.2" text-anchor="middle" font-family="Liberation Sans, sans-serif" font-weight="700" fill="#8a8a90">2</text>
<text x="688.5" y="388.3" font-size="5.2" text-anchor="middle" font-family="Liberation Sans, sans-serif" font-weight="700" fill="#8a8a90">0</text>
<text x="688.5" y="414.4" font-size="5.2" text-anchor="middle" font-family="Liberation Sans, sans-serif" font-weight="700" fill="#8a8a90">2</text>
<text x="688.5" y="440.5" font-size="5.2" text-anchor="middle" font-family="Liberation Sans, sans-serif" font-weight="700" fill="#8a8a90">4</text>
<text x="688.5" y="466.6" font-size="5.2" text-anchor="middle" font-family="Liberation Sans, sans-serif" font-weight="700" fill="#8a8a90">6</text>
<text x="688.5" y="492.7" font-size="5.2" text-anchor="middle" font-family="Liberation Sans, sans-serif" font-weight="700" fill="#8a8a90">8</text>
<path d="M693.5 417.7h8" stroke="#555" stroke-width="1.2"/>
<path d="M722.5 545.9H959M723.5 546.2v-2M736.6 546.2v-3.2M749.6 546.2v-2M762.7 546.2v-3.2M775.8 546.2v-2M788.8 546.2v-3.2M801.9 546.2v-2M814.9 546.2v-3.2M828.0 546.2v-2M841.0 546.2v-3.2M854.0 546.2v-2M867.1 546.2v-3.2M880.1 546.2v-2M893.2 546.2v-3.2M906.2 546.2v-2M919.3 546.2v-3.2M932.4 546.2v-2M945.4 546.2v-3.2M958.5 546.2v-2" stroke="#77777c" stroke-width="1" fill="none"/>
<text x="736.6" y="556.6" font-size="5.2" text-anchor="middle" font-family="Liberation Sans, sans-serif" font-weight="700" fill="#8a8a90">8</text>
<text x="762.7" y="556.6" font-size="5.2" text-anchor="middle" font-family="Liberation Sans, sans-serif" font-weight="700" fill="#8a8a90">6</text>
<text x="788.8" y="556.6" font-size="5.2" text-anchor="middle" font-family="Liberation Sans, sans-serif" font-weight="700" fill="#8a8a90">4</text>
<text x="814.9" y="556.6" font-size="5.2" text-anchor="middle" font-family="Liberation Sans, sans-serif" font-weight="700" fill="#8a8a90">2</text>
<text x="841.0" y="556.6" font-size="5.2" text-anchor="middle" font-family="Liberation Sans, sans-serif" font-weight="700" fill="#8a8a90">0</text>
<text x="867.1" y="556.6" font-size="5.2" text-anchor="middle" font-family="Liberation Sans, sans-serif" font-weight="700" fill="#8a8a90">2</text>
<text x="893.2" y="556.6" font-size="5.2" text-anchor="middle" font-family="Liberation Sans, sans-serif" font-weight="700" fill="#8a8a90">4</text>
<text x="919.3" y="556.6" font-size="5.2" text-anchor="middle" font-family="Liberation Sans, sans-serif" font-weight="700" fill="#8a8a90">6</text>
<text x="945.4" y="556.6" font-size="5.2" text-anchor="middle" font-family="Liberation Sans, sans-serif" font-weight="700" fill="#8a8a90">8</text>
<path d="M950.4 541.5v8M952.8 543v3" stroke="#77777c" stroke-width="1.3"/><rect x="949.5" y="551.5" width="1.6" height="3" fill="#aaa"/>
<circle cx="692.8" cy="532.2" r="3.6" stroke="#4a4a50" stroke-width="1" fill="none"/><path d="M690 535l5.8-5.8" stroke="#4a4a50" stroke-width="1"/>
<text x="700.5" y="534" font-size="4.8" font-family="Liberation Sans, sans-serif" font-weight="700" fill="#666">9 mm</text>
<path d="M821 533.5h3l1.5-3.2 1 3.2v2.2h-5.5z" fill="#3d8fe0"/>
<text x="827.5" y="535.3" font-size="4.6" font-family="Liberation Sans, sans-serif" fill="#7a7a82" font-weight="700" letter-spacing=".75">© OCULUS</text>
</svg>
<!-- colour scale -->
<div class="abs" style="left:985.2px;top:190.30px;width:31px;height:12.47px;background:#f4c4cf"></div>
<div class="t" style="left:997.2px;top:193.90px;font-size:5.2px;font-weight:700;color:#1a1a1a">24</div>
<div class="abs" style="left:985.2px;top:202.47px;width:31px;height:12.47px;background:#f2b3c0"></div>
<div class="t" style="left:997.2px;top:206.07px;font-size:5.2px;font-weight:700;color:#1a1a1a">26</div>
<div class="abs" style="left:985.2px;top:214.65px;width:31px;height:12.47px;background:#f0a0ae"></div>
<div class="t" style="left:997.2px;top:218.25px;font-size:5.2px;font-weight:700;color:#1a1a1a">28</div>
<div class="abs" style="left:985.2px;top:226.82px;width:31px;height:12.47px;background:#ec808e"></div>
<div class="t" style="left:997.2px;top:230.42px;font-size:5.2px;font-weight:700;color:#1a1a1a">30</div>
<div class="abs" style="left:985.2px;top:239.00px;width:31px;height:12.47px;background:#e96a78"></div>
<div class="t" style="left:997.2px;top:242.60px;font-size:5.2px;font-weight:700;color:#1a1a1a">32</div>
<div class="abs" style="left:985.2px;top:251.17px;width:31px;height:12.47px;background:#e75662"></div>
<div class="t" style="left:997.2px;top:254.77px;font-size:5.2px;font-weight:700;color:#1a1a1a">34</div>
<div class="abs" style="left:985.2px;top:263.35px;width:31px;height:12.47px;background:#e4444c"></div>
<div class="t" style="left:997.2px;top:266.95px;font-size:5.2px;font-weight:700;color:#1a1a1a">36</div>
<div class="abs" style="left:985.2px;top:275.52px;width:31px;height:12.47px;background:#e23b3a"></div>
<div class="t" style="left:997.2px;top:279.12px;font-size:5.2px;font-weight:700;color:#1a1a1a">38</div>
<div class="abs" style="left:985.2px;top:287.69px;width:31px;height:12.47px;background:#ea7a2c"></div>
<div class="t" style="left:997.2px;top:291.29px;font-size:5.2px;font-weight:700;color:#1a1a1a">40</div>
<div class="abs" style="left:985.2px;top:299.87px;width:31px;height:12.47px;background:#f3b136"></div>
<div class="t" style="left:997.2px;top:303.47px;font-size:5.2px;font-weight:700;color:#1a1a1a">42</div>
<div class="abs" style="left:985.2px;top:312.04px;width:31px;height:12.47px;background:#f6ec4c"></div>
<div class="t" style="left:997.2px;top:315.64px;font-size:5.2px;font-weight:700;color:#1a1a1a">44</div>
<div class="abs" style="left:985.2px;top:324.22px;width:31px;height:12.47px;background:#c2d84a"></div>
<div class="t" style="left:997.2px;top:327.82px;font-size:5.2px;font-weight:700;color:#1a1a1a">46</div>
<div class="abs" style="left:985.2px;top:336.39px;width:31px;height:12.47px;background:#7fc24f"></div>
<div class="t" style="left:997.2px;top:339.99px;font-size:5.2px;font-weight:700;color:#1a1a1a">48</div>
<div class="abs" style="left:985.2px;top:348.56px;width:31px;height:12.47px;background:#5eb84e"></div>
<div class="t" style="left:997.2px;top:352.16px;font-size:5.2px;font-weight:700;color:#1a1a1a">50</div>
<div class="abs" style="left:985.2px;top:360.74px;width:31px;height:12.47px;background:#49ae4f"></div>
<div class="t" style="left:997.2px;top:364.34px;font-size:5.2px;font-weight:700;color:#1a1a1a">52</div>
<div class="abs" style="left:985.2px;top:372.91px;width:31px;height:12.47px;background:#40a588"></div>
<div class="t" style="left:997.2px;top:376.51px;font-size:5.2px;font-weight:700;color:#1a1a1a">54</div>
<div class="abs" style="left:985.2px;top:385.09px;width:31px;height:12.47px;background:#5ebbaa"></div>
<div class="t" style="left:997.2px;top:388.69px;font-size:5.2px;font-weight:700;color:#1a1a1a">56</div>
<div class="abs" style="left:985.2px;top:397.26px;width:31px;height:12.47px;background:#6cc4c6"></div>
<div class="t" style="left:997.2px;top:400.86px;font-size:5.2px;font-weight:700;color:#1a1a1a">58</div>
<div class="abs" style="left:985.2px;top:409.44px;width:31px;height:12.47px;background:#5fc1dd"></div>
<div class="t" style="left:997.2px;top:413.04px;font-size:5.2px;font-weight:700;color:#1a1a1a">60</div>
<div class="abs" style="left:985.2px;top:421.61px;width:31px;height:12.47px;background:#50b4e6"></div>
<div class="t" style="left:997.2px;top:425.21px;font-size:5.2px;font-weight:700;color:#1a1a1a">62</div>
<div class="abs" style="left:985.2px;top:433.78px;width:31px;height:12.47px;background:#4b90d4"></div>
<div class="t" style="left:997.2px;top:437.38px;font-size:5.2px;font-weight:700;color:#1a1a1a">64</div>
<div class="abs" style="left:985.2px;top:445.96px;width:31px;height:12.47px;background:#4a81cc"></div>
<div class="t" style="left:997.2px;top:449.56px;font-size:5.2px;font-weight:700;color:#1c2a6a">66</div>
<div class="abs" style="left:985.2px;top:458.13px;width:31px;height:12.47px;background:#4670c3"></div>
<div class="t" style="left:997.2px;top:461.73px;font-size:5.2px;font-weight:700;color:#1c2a6a">68</div>
<div class="abs" style="left:985.2px;top:470.31px;width:31px;height:12.47px;background:#4563b8"></div>
<div class="t" style="left:997.2px;top:473.91px;font-size:5.2px;font-weight:700;color:#dfe4f6">70</div>
<div class="abs" style="left:985.2px;top:482.48px;width:31px;height:12.47px;background:#4259b0"></div>
<div class="t" style="left:997.2px;top:486.08px;font-size:5.2px;font-weight:700;color:#dfe4f6">72</div>
<div class="abs" style="left:985.2px;top:494.65px;width:31px;height:12.47px;background:#4053ac"></div>
<div class="t" style="left:997.2px;top:498.25px;font-size:5.2px;font-weight:700;color:#dfe4f6">74</div>
<div class="abs" style="left:985.2px;top:506.83px;width:31px;height:12.47px;background:#3e4ea9"></div>
<div class="t" style="left:997.2px;top:510.43px;font-size:5.2px;font-weight:700;color:#dfe4f6">76</div>
<div class="abs" style="left:985.2px;top:519.00px;width:31px;height:12.47px;background:#3c49a7"></div>
<div class="t" style="left:997.2px;top:522.60px;font-size:5.2px;font-weight:700;color:#dfe4f6">78</div>
<div class="abs" style="left:985.2px;top:531.18px;width:31px;height:12.47px;background:#3944a4"></div>
<div class="t" style="left:997.2px;top:534.78px;font-size:5.2px;font-weight:700;color:#dfe4f6">80</div>
<div class="abs" style="left:985.2px;top:543.35px;width:31px;height:12.47px;background:#2f399c"></div>
<div class="t" style="left:997.2px;top:546.95px;font-size:5.2px;font-weight:700;color:#dfe4f6">82</div>
<div class="abs" style="left:985.2px;top:555.53px;width:31px;height:12.47px;background:#262c80"></div>
<div class="t" style="left:997.2px;top:559.13px;font-size:5.2px;font-weight:700;color:#dfe4f6">84</div>
<div class="abs" style="left:985.2px;top:385.09px;width:31px;height:12.17px;border:1px solid #2e7f6c"></div>
<div class="abs" style="left:983px;top:386.09px;width:1.6px;height:10.17px;background:#999"></div>
<div class="abs" style="left:986px;top:575.6px;width:30px;height:35px;background:#e9e9ef"></div>
<div class="t" style="left:986px;width:30px;text-align:center;top:579.3px;font-size:5.4px;font-weight:700;color:#333">2 µm</div>
<div class="t" style="left:986px;width:30px;text-align:center;top:589.3px;font-size:5.4px;font-weight:700;color:#333">Layer Th.</div>
<div class="t" style="left:986px;width:30px;text-align:center;top:599.3px;font-size:5.4px;font-weight:700;color:#333">Absolut</div>
</body></html>
